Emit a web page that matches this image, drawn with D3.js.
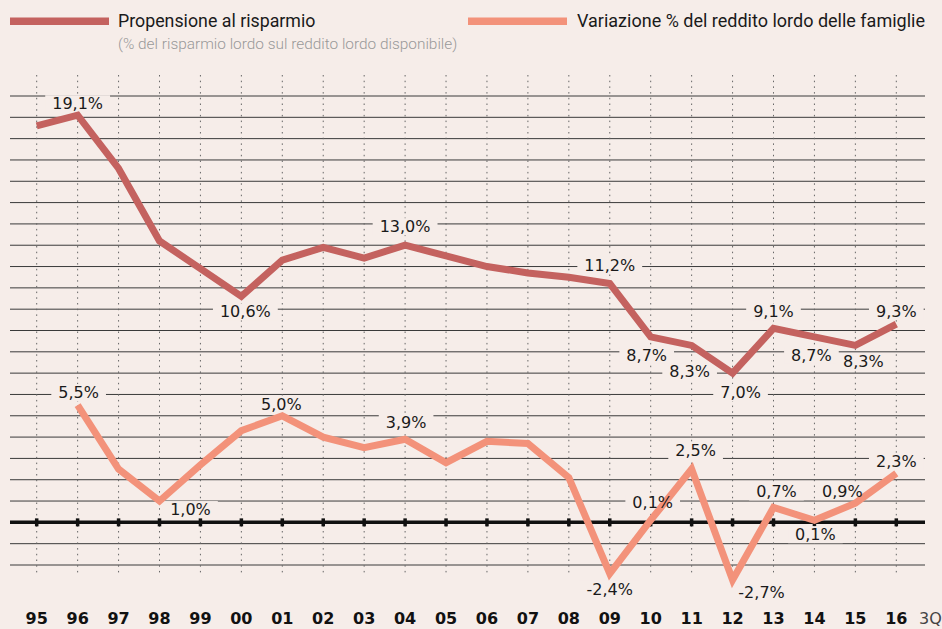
<!DOCTYPE html>
<html>
<head>
<meta charset="utf-8">
<script src="https://cdn.jsdelivr.net/npm/d3@7.9.0/dist/d3.min.js"></script>
<style>
  html, body { margin: 0; padding: 0; background: #f6ede9; }
  svg { display: block; }
  .lbl { font-family: 'DejaVu Sans', sans-serif; font-size: 16px; fill: #1a1a1a; }
  .year { font-family: 'DejaVu Sans', sans-serif; font-weight: bold; font-size: 16px; fill: #111; }
</style>
</head>
<body>
<svg id="chart"></svg>
<script>
// anni (asse x)
let years = ['95', '96', '97', '98', '99', '00', '01', '02', '03', '04', '05',
  '06', '07', '08', '09', '10', '11', '12', '13', '14', '15', '16'];

// propensione al risparmio (%)
let savings = [18.6, 19.1, 16.6, 13.2, 11.9, 10.6, 12.3, 12.9, 12.4, 13.0, 12.5,
  12.0, 11.7, 11.5, 11.2, 8.7, 8.3, 7.0, 9.1, 8.7, 8.3, 9.3];

// variazione % del reddito lordo delle famiglie (dal 96)
let income = [null, 5.5, 2.5, 1.0, 2.7, 4.3, 5.0, 4.0, 3.5, 3.9, 2.8,
  3.8, 3.7, 2.1, -2.4, 0.1, 2.5, -2.7, 0.7, 0.1, 0.9, 2.3];

// etichette: anno, offset
let savingsLabels = [
  ['96', 0, -6], ['00', 4, 21], ['04', 0, -13], ['09', 0, -13], ['10', -4, 24],
  ['11', -2, 32], ['12', 8, 25], ['13', 0, -11], ['14', -3, 24], ['15', 8, 22], ['16', 0, -7]
];
let incomeLabels = [
  ['96', 1, -7], ['98', 31, 14], ['01', -1, -6], ['04', 1, -11], ['09', 0, 21],
  ['10', 2, -12], ['11', 4, -13], ['12', 29, 18], ['13', 3, -10], ['14', 1, 20],
  ['15', -13, -6], ['16', 0, -6]
];

let W = 942, H = 629;
let red = '#c4625f', salmon = '#f3927a';

let svg = d3.select('#chart').attr('width', W).attr('height', H);

let x = d3.scalePoint().domain(years).range([36.7, 896.3]);
let y = d3.scaleLinear().domain([-2, 20]).range([565, 96]);

// legenda
svg.append('rect').attr('x', 10).attr('y', 17.5).attr('width', 99).attr('height', 7.5).attr('fill', red);
svg.append('text').attr('x', 118).attr('y', 27)
  .style('font-family', 'Roboto').style('font-size', '17.8px').attr('fill', '#1a1a1a')
  .text('Propensione al risparmio');
svg.append('text').attr('x', 118).attr('y', 49)
  .style('font-family', 'Roboto').style('font-weight', 300).style('font-size', '15.4px').attr('fill', '#999')
  .text('(% del risparmio lordo sul reddito lordo disponibile)');
svg.append('rect').attr('x', 468).attr('y', 17.5).attr('width', 99).attr('height', 7.5).attr('fill', salmon);
svg.append('text').attr('x', 577).attr('y', 27)
  .style('font-family', 'Roboto').style('font-size', '18px').attr('fill', '#1a1a1a')
  .text('Variazione % del reddito lordo delle famiglie');

// griglia orizzontale
let grid = d3.range(-2, 21);
svg.append('g').selectAll('line')
  .data(grid.filter(d => d !== 0))
  .join('line')
  .attr('x1', 10).attr('x2', 925)
  .attr('y1', d => y(d)).attr('y2', d => y(d))
  .attr('stroke', '#3a3a3a').attr('stroke-width', 1);

// griglia verticale tratteggiata
svg.append('g').selectAll('line')
  .data(years)
  .join('line')
  .attr('x1', d => x(d)).attr('x2', d => x(d))
  .attr('y1', 75).attr('y2', 575)
  .attr('stroke', '#666').attr('stroke-width', 1)
  .attr('stroke-dasharray', '1.5,4.2');

// linea dello zero con tacche
svg.append('line')
  .attr('x1', 10).attr('x2', 925)
  .attr('y1', y(0)).attr('y2', y(0))
  .attr('stroke', '#111').attr('stroke-width', 3.5);
svg.append('g').selectAll('rect')
  .data(years)
  .join('rect')
  .attr('x', d => x(d) - 1.75).attr('y', y(0) - 4)
  .attr('width', 3.5).attr('height', 8)
  .attr('fill', '#111');

// etichette anni
svg.append('g').selectAll('text')
  .data(years)
  .join('text')
  .attr('class', 'year')
  .attr('x', d => x(d)).attr('y', 624)
  .attr('text-anchor', 'middle')
  .text(d => d);
svg.append('text').attr('x', 919).attr('y', 624)
  .style('font-family', 'DejaVu Sans').style('font-size', '16px').attr('fill', '#444')
  .text('3Q');

let fmt = v => v.toFixed(1).replace('.', ',') + '%';

function labelData(labels, values) {
  return labels.map(([yr, dx, dy]) => {
    let v = values[years.indexOf(yr)];
    return { x: x(yr) + dx, y: y(v) + dy, text: fmt(v) };
  });
}

let allLabels = labelData(savingsLabels, savings).concat(labelData(incomeLabels, income));

let boxG = svg.append('g');
let lineG = svg.append('g');
let textG = svg.append('g');

let texts = textG.selectAll('text')
  .data(allLabels)
  .join('text')
  .attr('class', 'lbl')
  .attr('x', d => d.x).attr('y', d => d.y)
  .attr('text-anchor', 'middle')
  .text(d => d.text);

// riquadri sotto le etichette
texts.each(function (d) {
  let b = this.getBBox();
  boxG.append('rect')
    .attr('x', b.x - 7).attr('y', b.y + 1)
    .attr('width', b.width + 14).attr('height', b.height - 2)
    .attr('fill', '#f6ede9');
});

// linee
let line = d3.line()
  .defined(d => d[1] != null)
  .x(d => x(d[0]))
  .y(d => y(d[1]));

lineG.append('path')
  .datum(years.map((yr, i) => [yr, savings[i]]))
  .attr('d', line)
  .attr('fill', 'none').attr('stroke', red)
  .attr('stroke-width', 7).attr('stroke-linejoin', 'miter');

lineG.append('path')
  .datum(years.map((yr, i) => [yr, income[i]]))
  .attr('d', line)
  .attr('fill', 'none').attr('stroke', salmon)
  .attr('stroke-width', 7).attr('stroke-linejoin', 'miter');
</script>
</body>
</html>
